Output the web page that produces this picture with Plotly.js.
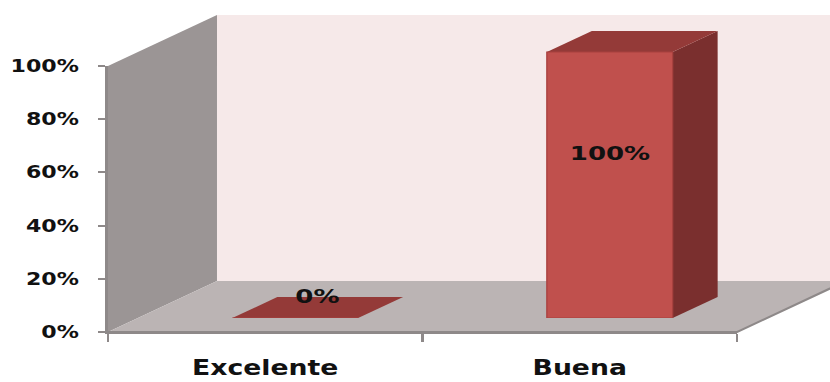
<!DOCTYPE html>
<html>
<head>
<meta charset="utf-8">
<script src="https://cdn.plot.ly/plotly-3.0.1.min.js"></script>
<style>
  html, body { margin: 0; padding: 0; background: #ffffff; overflow: hidden; }
  #wrap { width: 638px; height: 382px; transform: scaleX(1.300940); transform-origin: 0 0; }
  #chart { width: 638px; height: 382px; }
</style>
</head>
<body>
<div id="wrap"><div id="chart"></div></div>
<script>
// ---- data ----
const categories = ['Excelente', 'Buena'];
const values = [0, 1];
const valueLabels = ['0%', '100%'];
const yTickValues = [0, 0.2, 0.4, 0.6, 0.8, 1];

// ---- geometry (reference pixels; horizontally stretched by S) ----
const S = 830 / 638;
const W = 638, H = 382;
const frontL = 108, frontR = 737, frontT = 66, frontB = 332;   // front plane
const depthX = 109, depthY = 51;                                // full depth offset
const paperL = 108, paperR = 830, paperT = 15, paperB = 332;
const pw = paperR - paperL, ph = paperB - paperT;
const barShiftX = 30, barShiftY = 14;   // bar front face offset
const barDepthX = 45, barDepthY = 21;   // bar depth
const y2Ext = 0.12;                     // extra headroom on bar axis so top faces are not clipped

function px(xo) { return (xo - paperL) / pw; }
function py(yo) { return (paperB - yo) / ph; }

const fx0 = px(frontL), fx1 = px(frontR), fy0 = py(frontB), fy1 = py(frontT);
const plotH = frontB - frontT;
const x2d = [px(frontL + barShiftX), px(frontR + barShiftX)];
const y2d = [py(frontB - barShiftY), py(frontB - barShiftY - plotH * (1 + y2Ext))];

// bar depth in data units of x2/y2
const catW = (frontR - frontL) / categories.length;
const dxU = barDepthX / catW;
const dyU = barDepthY / plotH;
const halfW = 0.2;

const wallLeft = '#9b9595', wallBack = '#f6e9e9', floorC = '#bbb4b4', edgeC = '#8e8989';
const shapes = [];
// back wall
shapes.push({type:'rect', xref:'paper', yref:'paper', layer:'below',
  x0: px(frontL + depthX), x1: px(frontR + depthX), y0: py(frontB - depthY), y1: py(frontT - depthY),
  fillcolor: wallBack, line:{width:0}});
// left wall
shapes.push({type:'path', xref:'paper', yref:'paper', layer:'below',
  path: `M ${fx0},${fy1} L ${px(frontL+depthX)},${py(frontT-depthY)} L ${px(frontL+depthX)},${py(frontB-depthY)} L ${fx0},${fy0} Z`,
  fillcolor: wallLeft, line:{width:0}});
// floor
shapes.push({type:'path', xref:'paper', yref:'paper', layer:'below',
  path: `M ${fx0},${fy0} L ${fx1},${fy0} L ${px(frontR+depthX)},${py(frontB-depthY)} L ${px(frontL+depthX)},${py(frontB-depthY)} Z`,
  fillcolor: floorC, line:{width:0}});
// floor front/right edge
shapes.push({type:'path', xref:'paper', yref:'paper', layer:'below',
  path: `M ${fx0},${fy0} L ${fx1},${fy0} L ${px(frontR+depthX)},${py(frontB-depthY)}`,
  line:{color: edgeC, width: 2}});

// bar top & side faces, computed from values on the bar axes
values.forEach((v, i) => {
  const l = i - halfW, r = i + halfW;
  shapes.push({type:'path', xref:'x2', yref:'y2', layer:'below',
    path: `M ${r},0 L ${r},${v} L ${r+dxU},${v+dyU} L ${r+dxU},${dyU} Z`,
    fillcolor:'#7a2f2e', line:{width:0}});
  shapes.push({type:'path', xref:'x2', yref:'y2', layer:'below',
    path: `M ${l},${v} L ${r},${v} L ${r+dxU},${v+dyU} L ${l+dxU},${v+dyU} Z`,
    fillcolor:'#943a38', line:{width:0}});
});

const annotations = values.map((v, i) => ({
  xref:'x2', yref:'y2',
  x: v > 0.1 ? i : i + dxU / 2,
  y: v > 0.1 ? v * 0.62 : v + dyU / 2,
  yshift: v > 0.1 ? 0 : 12,
  text: valueLabels[i], showarrow:false,
  font:{family:'DejaVu Sans', size:20, color:'#111111', weight:'bold'}
}));

const traces = [
  {type:'scatter', x: categories, y: values, xaxis:'x', yaxis:'y', mode:'markers',
   marker:{opacity:0}, hoverinfo:'skip', showlegend:false},
  {type:'bar', x: categories, y: values, xaxis:'x2', yaxis:'y2', width: 2*halfW,
   marker:{color:'#c0504d', line:{color:'#a8413f', width:1}}, hoverinfo:'skip', showlegend:false}
];

const layout = {
  width: W, height: H,
  margin: {l: paperL / S, r: (830 - paperR) / S, t: paperT, b: H - paperB, pad: 0},
  paper_bgcolor:'#ffffff', plot_bgcolor:'rgba(0,0,0,0)',
  showlegend:false,
  xaxis: {domain:[fx0, fx1], type:'category', categoryarray: categories, range:[-0.5, 1.5],
    showline:true, linecolor: edgeC, linewidth:2, showgrid:false, zeroline:false,
    ticks:'outside', tickson:'boundaries', ticklen:8, tickwidth:2, tickcolor: edgeC,
    ticklabelstandoff: 16,
    tickfont:{family:'DejaVu Sans', size:20.5, color:'#111111', weight:'bold'}},
  yaxis: {domain:[fy0, fy1], range:[0, 1], tickvals: yTickValues, tickformat:'.0%',
    showline:true, linecolor: edgeC, linewidth:2, showgrid:false, zeroline:false,
    ticks:'outside', ticklen:6, tickwidth:2, tickcolor: edgeC,
    ticklabelstandoff: 11,
    tickfont:{family:'DejaVu Sans', size:17, color:'#111111', weight:'bold'}},
  xaxis2: {domain: x2d, anchor:'y2', type:'category', categoryarray: categories, range:[-0.5, 1.5],
    visible:false, fixedrange:true},
  yaxis2: {domain: y2d, anchor:'x2', range:[0, 1 + y2Ext], visible:false, fixedrange:true},
  shapes: shapes,
  annotations: annotations
};

Plotly.newPlot('chart', traces, layout, {displayModeBar:false, staticPlot:true});
</script>
</body>
</html>
